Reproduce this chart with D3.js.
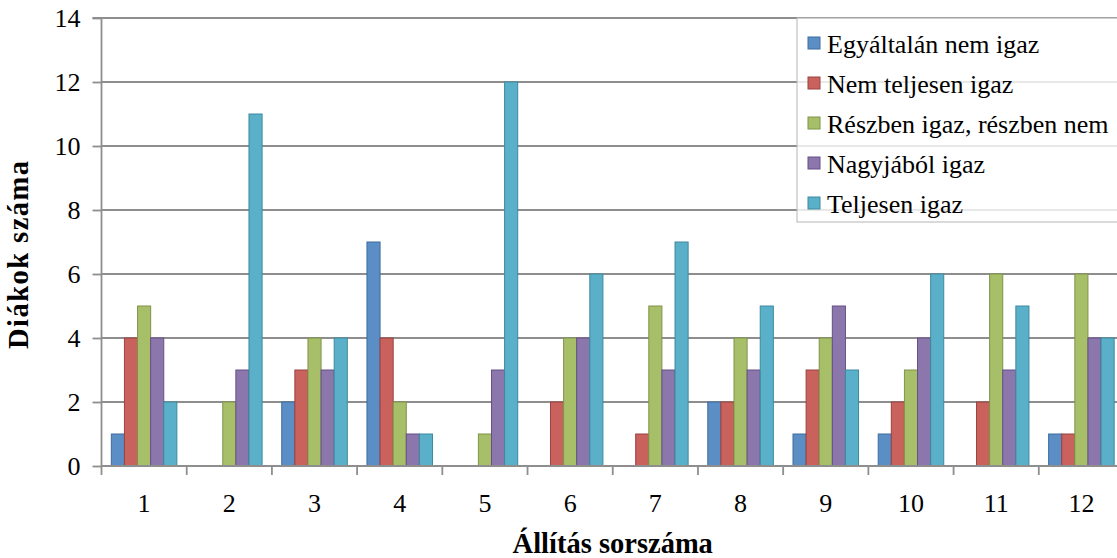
<!DOCTYPE html>
<html>
<head>
<meta charset="utf-8">
<script src="https://cdn.jsdelivr.net/npm/d3@7/dist/d3.min.js"></script>
<style>
  html, body { margin: 0; padding: 0; background: #fff; }
  svg { display: block; }
</style>
</head>
<body>
<svg id="chart" width="1117" height="558"></svg>
<script>
const categories = ["1","2","3","4","5","6","7","8","9","10","11","12"];
const seriesNames = ["Egyáltalán nem igaz","Nem teljesen igaz","Részben igaz, részben nem","Nagyjából igaz","Teljesen igaz"];
const egyaltalanNem = [1,0,2,7,0,0,0,2,1,1,0,1];
const nemTeljesen   = [4,0,3,4,0,2,1,2,3,2,2,1];
const reszben       = [5,2,4,2,1,4,5,4,4,3,6,6];
const nagyjabol     = [4,3,3,1,3,4,3,3,5,4,3,4];
const teljesen      = [2,11,4,1,12,6,7,5,3,6,5,4];
const yTicks = [0,2,4,6,8,10,12,14];
const xTitle = "Állítás sorszáma";
const yTitle = "Diákok száma";
const fills   = ["#5B8EC5","#C9615D","#A8BF6A","#8C77AD","#59B0C8"];
const strokes = ["#3F6C9E","#9A4340","#7E9449","#664F86","#3C8A9F"];

const seriesValues = [egyaltalanNem, nemTeljesen, reszben, nagyjabol, teljesen];
const FONT = '"Liberation Serif", "Times New Roman", serif';

const svg = d3.select("#chart");
const x0 = 101.5, x1 = 1124, yTop = 18, yBot = 466;

const x = d3.scaleBand().domain(categories).range([x0, x1]).paddingInner(0).paddingOuter(0);
const barW = x.bandwidth() / 6.5;
const xs = d3.scaleBand().domain(d3.range(5)).range([barW*0.75, barW*5.75]).padding(0);
const y = d3.scaleLinear().domain([0,14]).range([yBot, yTop]);

// gridlines
svg.append("g").selectAll("line").data(yTicks.filter(d => d > 0)).join("line")
  .attr("x1", x0).attr("x2", 1117)
  .attr("y1", d => y(d)).attr("y2", d => y(d))
  .attr("stroke", "#8E8E8E").attr("stroke-width", 1.8);

// bars
const g = svg.append("g");
seriesValues.forEach((vals, si) => {
  g.append("g").selectAll("rect").data(vals).join("rect")
    .attr("x", (d, i) => x(categories[i]) + xs(si))
    .attr("width", xs.bandwidth())
    .attr("y", d => y(d))
    .attr("height", d => y(0) - y(d))
    .attr("fill", fills[si])
    .attr("stroke", d => d > 0 ? strokes[si] : "none")
    .attr("stroke-width", 1);
});

// y axis
const yAxis = d3.axisLeft(y).tickValues(yTicks).tickSize(9).tickPadding(12).tickFormat(d3.format("d"));
const ya = svg.append("g").attr("transform", `translate(${x0},0)`).call(yAxis);
ya.select(".domain").attr("stroke", "#8E8E8E").attr("stroke-width", 1.8).attr("d", `M-9,${yTop}H0V${yBot}`);
ya.selectAll(".tick line").attr("stroke", "#8E8E8E").attr("stroke-width", 1.8);
ya.selectAll(".tick text").attr("font-size", 26).style("font-family", FONT).attr("fill", "#000").attr("dy", "0.33em");

// x axis
const xAxis = d3.axisBottom(x).tickSize(0).tickPadding(20);
const xa = svg.append("g").attr("transform", `translate(0,${yBot})`).call(xAxis);
xa.select(".domain").attr("stroke", "#8E8E8E").attr("stroke-width", 1.8).attr("d", `M${x0},0H1117`);
xa.selectAll(".tick text").attr("font-size", 26).style("font-family", FONT).attr("fill", "#000")
  .attr("dy", null).attr("y", 46);
// boundary ticks
svg.append("g").selectAll("line").data(categories).join("line")
  .attr("x1", d => x(d)).attr("x2", d => x(d))
  .attr("y1", yBot).attr("y2", yBot + 9)
  .attr("stroke", "#8E8E8E").attr("stroke-width", 1.8);

// axis titles
svg.append("text").attr("x", (x0 + x1) / 2).attr("y", 553)
  .attr("text-anchor", "middle").attr("font-size", 28.5).attr("font-weight", "bold")
  .style("font-family", FONT).attr("fill", "#000")
  .text(xTitle);
svg.append("text").attr("transform", "translate(28,255) rotate(-90)")
  .attr("text-anchor", "middle").attr("font-size", 28.5).attr("font-weight", "bold")
  .attr("textLength", 188).attr("lengthAdjust", "spacing")
  .style("font-family", FONT).attr("fill", "#000")
  .text(yTitle);

// legend
const lg = svg.append("g");
lg.append("rect").attr("x", 797).attr("y", 18).attr("width", 340).attr("height", 204)
  .attr("fill", "#fff").attr("fill-opacity", 0.8).attr("stroke", "#B5B5B5").attr("stroke-width", 1);
const items = lg.selectAll("g.item").data(seriesNames).join("g").attr("class", "item")
  .attr("transform", (d, i) => `translate(808,${37 + i * 40})`);
items.append("rect").attr("width", 12).attr("height", 12)
  .attr("fill", (d, i) => fills[i]).attr("stroke", (d, i) => strokes[i]).attr("stroke-width", 1);
items.append("text").attr("x", 19).attr("y", 16).attr("font-size", 26)
  .style("font-family", FONT).attr("fill", "#000").text(d => d);
</script>
</body>
</html>
